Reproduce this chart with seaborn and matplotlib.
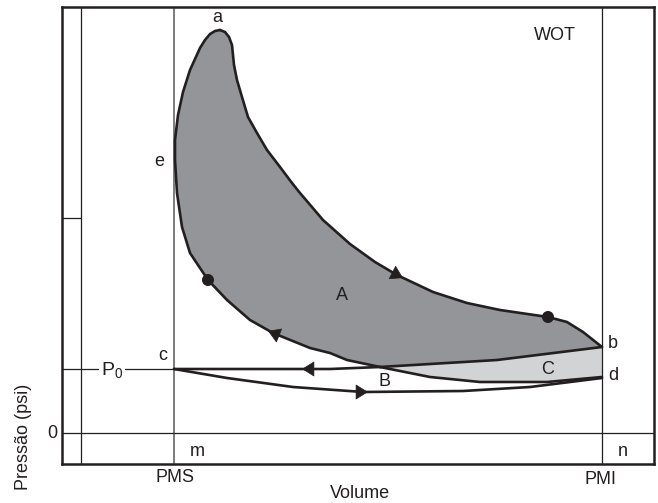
import pandas as pd
import seaborn as sns
import matplotlib.pyplot as plt

# diagrama p-V (unidades arbitrarias: volume 0 na linha interna, pressao 0 na linha de 0)
V_PMS = 93
V_PMI = 521
P_ZERO = 0
P_0 = 64
P_TICK = 215

# compressao: d -> B (parte de baixo, limite da area C)
comp_low_v = [521, 466, 399, 349, 299]
comp_low_p = [56, 51, 51, 56, 66]
# compressao: B -> a
comp_up_v = [299, 266, 249, 229, 192, 169, 146, 127, 109, 101, 96, 94, 94, 97, 102, 109, 119, 124, 129, 134, 139]
comp_up_p = [66, 73, 80, 85, 100, 113, 133, 153, 180, 206, 240, 273, 293, 318, 341, 363, 385, 393, 399, 402, 403]
# expansao: a -> b
exp_v = [139, 144, 148, 151, 152, 153, 156, 161, 167, 176, 186, 199, 211, 219, 242, 269, 294, 316, 352, 386, 419, 467, 486, 502, 521]
exp_p = [403, 401, 396, 388, 378, 368, 353, 336, 316, 300, 283, 266, 250, 240, 213, 189, 171, 158, 141, 130, 123, 116, 111, 101, 86]
# escape: b -> B -> c
exh_right_v = [521, 416, 299]
exh_right_p = [86, 73, 66]
exh_left_v = [299, 249, 93]
exh_left_p = [66, 64, 64]
# admissao: c -> d
int_v = [93, 146, 212, 282, 382, 449, 521]
int_p = [64, 55, 46, 41, 42, 46, 55]

# pontos marcados
dot_v = [127, 467]
dot_p = [153, 116]

# setas: (ponta v, ponta p, direcao dv, direcao dp)
arrows = [(322, 155, 58, -30), (187, 102, -37, 15), (221, 64, -1, 0), (287, 41, 1, 0)]

segs = {'comp_low': (comp_low_v, comp_low_p), 'comp_up': (comp_up_v, comp_up_p),
        'exp': (exp_v, exp_p), 'exh_right': (exh_right_v, exh_right_p),
        'exh_left': (exh_left_v, exh_left_p), 'int': (int_v, int_p)}
df = pd.concat([pd.DataFrame({'volume': v, 'pressure': p, 'stroke': k}) for k, (v, p) in segs.items()],
               ignore_index=True)

sns.set_theme(style='white')
plt.rcParams['font.family'] = ['Liberation Sans', 'DejaVu Sans']
plt.rcParams['mathtext.fontset'] = 'custom'
plt.rcParams['mathtext.rm'] = 'Liberation Sans'
plt.rcParams['mathtext.it'] = 'Liberation Sans'

ink = '#231f20'
fig = plt.figure(figsize=(6.58, 5.03), dpi=100)
ax = fig.add_axes([62 / 658, 39 / 503, 592 / 658, 457 / 503])
ax.set_xlim(-19, 573)
ax.set_ylim(-31, 426)
ax.set_xticks([])
ax.set_yticks([])
for s in ax.spines.values():
    s.set_visible(True)
    s.set_linewidth(1.8)
    s.set_color(ink)

# areas
area_a_v = comp_up_v + exp_v[1:] + exh_right_v[1:]
area_a_p = comp_up_p + exp_p[1:] + exh_right_p[1:]
ax.fill(area_a_v, area_a_p, color='#939598', lw=0, zorder=1)
area_c_v = exh_right_v + comp_low_v[::-1][1:]
area_c_p = exh_right_p + comp_low_p[::-1][1:]
ax.fill(area_c_v, area_c_p, color='#d1d3d4', lw=0, zorder=1)

# linhas de referencia
ax.axvline(0, color=ink, lw=0.9, zorder=1.5)
ax.axvline(V_PMS, color='#58595b', lw=1.1, zorder=1.5)
ax.axvline(V_PMI, color=ink, lw=0.9, zorder=1.5)
ax.axhline(P_ZERO, color=ink, lw=0.9, zorder=1.5)
ax.hlines(P_0, -19, V_PMS, color=ink, lw=0.9, zorder=1.5)
ax.hlines(P_TICK, -19, 0, color=ink, lw=0.9, zorder=1.5)

sns.lineplot(data=df, x='volume', y='pressure', units='stroke', estimator=None, sort=False,
             color=ink, lw=1.9, ax=ax, zorder=3, legend=False,
             solid_joinstyle='round', solid_capstyle='round')
sns.scatterplot(x=dot_v, y=dot_p, color=ink, s=75, edgecolor='none', ax=ax, zorder=4)
for tv, tp, dv, dp in arrows:
    n = (dv ** 2 + dp ** 2) ** 0.5
    ax.annotate('', xy=(tv, tp), xytext=(tv - 12 * dv / n, tp - 12 * dp / n),
                arrowprops=dict(arrowstyle='-|>,head_length=0.45,head_width=0.28', mutation_scale=18,
                                fc=ink, ec=ink, lw=0.5, shrinkA=0, shrinkB=0), zorder=4)
ax.set_xlabel('')
ax.set_ylabel('')

fs = 13
labels = [('a', 136, 416), ('e', 78, 271), ('c', 82, 78), ('0', -29, 0), ('m', 116, -19),
          ('n', 542, -19), ('PMS', 94, -45), ('PMI', 520, -46), ('Volume', 279, -60),
          ('WOT', 474, 398), ('A', 261, 138), ('B', 304, 51), ('C', 467, 63),
          ('b', 532, 89), ('d', 532, 58)]
for t, x, y in labels:
    ax.text(x, y, t, ha='center', va='center', fontsize=fs, color=ink, zorder=5)
ax.text(31, 58, 'P$_0$', ha='center', va='baseline', fontsize=14, color=ink, zorder=5,
        bbox=dict(fc='white', ec='none', pad=1.5))
ax.text(-57, -4, 'Pressão (psi)', ha='center', va='center', rotation=90, fontsize=fs, color=ink)

fig.savefig('out.png', dpi=100)
